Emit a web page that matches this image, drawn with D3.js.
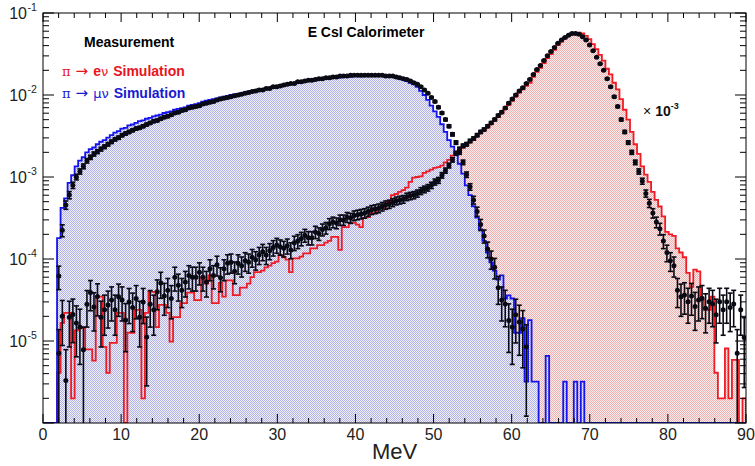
<!DOCTYPE html>
<html>
<head>
<meta charset="utf-8">
<script src="https://cdn.jsdelivr.net/npm/d3@7"></script>
<style>
  body { margin: 0; background: #fff; }
  svg { font-family: "Liberation Sans", Arial, Helvetica, sans-serif; }
</style>
</head>
<body>
<div id="chart"></div>
<script>
// E CsI calorimeter energy spectra, 200 bins of 0.45 MeV from 0 to 90 MeV
const width = 755;
const height = 466;
const margin = {left: 43, right: 9, top: 13, bottom: 43};
const binWidth = 0.45;
const xTicks = [0, 10, 20, 30, 40, 50, 60, 70, 80, 90];
const yDecades = [1e-6, 1e-5, 1e-4, 1e-3, 1e-2, 1e-1];
const yLabelExp = [-1, -2, -3, -4, -5];
const countsPerUnit = 1.6e5; // statistics used for the data error bars

// pi -> mu nu simulation (blue)
const muSim = [
  0, 0, 0, 0, 1.8e-4, 4.2e-4, 5.5e-4, 8.5e-4, 1.05e-3, 1.35e-3,
  1.58e-3, 1.74e-3, 2.0e-3, 2.19e-3, 2.29e-3, 2.51e-3, 2.69e-3, 2.82e-3, 3.02e-3, 3.24e-3,
  3.47e-3, 3.63e-3, 3.89e-3, 3.98e-3, 4.27e-3, 4.37e-3, 4.57e-3, 4.79e-3, 4.9e-3, 5.13e-3,
  5.25e-3, 5.5e-3, 5.62e-3, 5.75e-3, 6.03e-3, 6.17e-3, 6.31e-3, 6.61e-3, 6.76e-3, 6.92e-3,
  7.08e-3, 7.41e-3, 7.59e-3, 7.76e-3, 7.94e-3, 8.32e-3, 8.51e-3, 8.71e-3, 8.91e-3, 9.12e-3,
  9.33e-3, 9.55e-3, 9.77e-3, 1.0e-2, 1.02e-2, 1.03e-2, 1.05e-2, 1.07e-2, 1.10e-2, 1.12e-2,
  1.15e-2, 1.17e-2, 1.18e-2, 1.20e-2, 1.23e-2, 1.26e-2, 1.29e-2, 1.30e-2, 1.32e-2, 1.35e-2,
  1.38e-2, 1.39e-2, 1.41e-2, 1.45e-2, 1.46e-2, 1.48e-2, 1.51e-2, 1.52e-2, 1.55e-2, 1.56e-2,
  1.58e-2, 1.59e-2, 1.62e-2, 1.62e-2, 1.63e-2, 1.66e-2, 1.66e-2, 1.67e-2, 1.70e-2, 1.70e-2,
  1.69e-2, 1.71e-2, 1.70e-2, 1.70e-2, 1.73e-2, 1.72e-2, 1.70e-2, 1.69e-2, 1.68e-2, 1.66e-2,
  1.62e-2, 1.58e-2, 1.55e-2, 1.48e-2, 1.41e-2, 1.35e-2, 1.26e-2, 1.12e-2, 1.0e-2, 8.7e-3,
  7.4e-3, 6.3e-3, 5.4e-3, 4.4e-3, 3.55e-3, 2.82e-3, 2.34e-3, 1.91e-3, 1.45e-3, 1.10e-3,
  7.9e-4, 6.0e-4, 4.4e-4, 3.2e-4, 2.3e-4, 1.66e-4, 1.2e-4, 9.1e-5, 7.2e-5, 5.6e-5,
  6.3e-5, 3.3e-5, 3.6e-5, 3.3e-5, 1.26e-5, 1.26e-5, 1.9e-5, 3.2e-6, 1.8e-5, 3.2e-6,
  3.2e-6, 0, 0, 6.6e-6, 0, 0, 0, 0, 3.2e-6, 0,
  0, 3.2e-6, 0, 3.2e-6, 0, 0, 0, 0, 0, 0,
  0, 0, 0, 0, 0, 0, 0, 0, 0, 0,
  0, 0, 0, 0, 0, 0, 0, 0, 0, 0,
  0, 0, 0, 0, 0, 0, 0, 0, 0, 0,
  0, 0, 0, 0, 0, 0, 0, 0, 0, 0
];

// pi -> e nu simulation (red)
const eSim = [
  0, 0, 0, 0, 4.1e-6, 1.66e-5, 2.2e-5, 2.2e-5, 2.0e-6, 1.35e-5,
  1.45e-5, 1.45e-5, 7.9e-6, 7.9e-6, 5.75e-6, 3.47e-5, 3.47e-5, 8.5e-6, 4.1e-6, 9.5e-6,
  9.5e-6, 2.2e-5, 2.2e-5, 0, 1.26e-5, 1.26e-5, 2.4e-5, 2.4e-5, 2.0e-6, 2.2e-5,
  3.98e-5, 3.98e-5, 1.48e-5, 2.75e-5, 2.75e-5, 2.2e-5, 9.8e-6, 1.95e-5, 1.95e-5, 2.9e-5,
  2.9e-5, 3.9e-5, 3.9e-5, 3.16e-5, 3.16e-5, 6.0e-5, 5.0e-5, 6.3e-5, 2.9e-5, 2.9e-5,
  5.1e-5, 3.47e-5, 5.5e-5, 5.5e-5, 3.63e-5, 3.63e-5, 4.47e-5, 4.47e-5, 5.0e-5, 6.0e-5,
  6.9e-5, 6.9e-5, 7.2e-5, 7.9e-5, 8.3e-5, 8.9e-5, 9.3e-5, 1.12e-4, 1.05e-4, 9.8e-5,
  6.9e-5, 1.02e-4, 1.02e-4, 1.07e-4, 1.17e-4, 1.17e-4, 1.35e-4, 1.35e-4, 1.48e-4, 1.48e-4,
  1.58e-4, 1.66e-4, 1.86e-4, 1.86e-4, 1.29e-4, 2.45e-4, 2.45e-4, 2.75e-4, 2.75e-4, 2.63e-4,
  2.45e-4, 3.16e-4, 3.24e-4, 3.63e-4, 3.63e-4, 4.17e-4, 4.17e-4, 4.79e-4, 5.0e-4, 6.0e-4,
  6.2e-4, 6.6e-4, 6.9e-4, 7.4e-4, 8.7e-4, 9.8e-4, 1.0e-3, 1.02e-3, 1.12e-3, 1.17e-3,
  1.23e-3, 1.29e-3, 1.32e-3, 1.38e-3, 1.51e-3, 1.62e-3, 1.82e-3, 1.95e-3, 2.14e-3, 2.29e-3,
  2.45e-3, 2.69e-3, 2.88e-3, 3.16e-3, 3.47e-3, 3.72e-3, 4.07e-3, 4.47e-3, 4.9e-3, 5.37e-3,
  6.03e-3, 6.76e-3, 7.59e-3, 8.51e-3, 9.55e-3, 1.07e-2, 1.17e-2, 1.29e-2, 1.41e-2, 1.66e-2,
  1.91e-2, 2.14e-2, 2.45e-2, 2.82e-2, 3.16e-2, 3.55e-2, 4.07e-2, 4.47e-2, 4.9e-2, 5.25e-2,
  5.62e-2, 5.75e-2, 5.75e-2, 5.62e-2, 5.25e-2, 4.79e-2, 4.17e-2, 3.63e-2, 3.09e-2, 2.63e-2,
  2.09e-2, 1.78e-2, 1.41e-2, 1.17e-2, 8.91e-3, 6.61e-3, 5.01e-3, 3.55e-3, 2.51e-3, 1.91e-3,
  1.35e-3, 1.07e-3, 8.7e-4, 6.6e-4, 5.25e-4, 4.37e-4, 3.31e-4, 2.14e-4, 2.0e-4, 1.91e-4,
  1.35e-4, 1.2e-4, 1.05e-4, 6.76e-5, 4.57e-5, 7.41e-5, 7.08e-5, 3.16e-5, 2.4e-5, 2.4e-5,
  3.47e-5, 4.1e-6, 2.0e-6, 2.0e-6, 8.1e-6, 2.0e-6, 5.9e-6, 5.9e-6, 0, 2.0e-6
];

// measurement, pi -> mu nu selection (black points along blue)
const muData = [
  0, 0, 0, 0, 6.2e-5, 2.24e-4, 4.57e-4, 6.03e-4, 7.94e-4, 1.0e-3,
  1.17e-3, 1.35e-3, 1.58e-3, 1.74e-3, 1.91e-3, 2.04e-3, 2.19e-3, 2.34e-3, 2.51e-3, 2.69e-3,
  2.88e-3, 3.02e-3, 3.24e-3, 3.39e-3, 3.55e-3, 3.72e-3, 3.89e-3, 3.98e-3, 4.17e-3, 4.37e-3,
  4.57e-3, 4.79e-3, 4.9e-3, 5.13e-3, 5.37e-3, 5.5e-3, 5.75e-3, 6.03e-3, 6.17e-3, 6.46e-3,
  6.61e-3, 6.92e-3, 7.08e-3, 7.24e-3, 7.41e-3, 7.76e-3, 7.94e-3, 8.13e-3, 8.32e-3, 8.71e-3,
  8.91e-3, 9.12e-3, 9.33e-3, 9.55e-3, 9.77e-3, 1.0e-2, 1.02e-2, 1.05e-2, 1.07e-2, 1.10e-2,
  1.12e-2, 1.15e-2, 1.15e-2, 1.20e-2, 1.20e-2, 1.26e-2, 1.26e-2, 1.29e-2, 1.32e-2, 1.35e-2,
  1.38e-2, 1.38e-2, 1.45e-2, 1.45e-2, 1.48e-2, 1.51e-2, 1.51e-2, 1.55e-2, 1.58e-2, 1.58e-2,
  1.62e-2, 1.62e-2, 1.66e-2, 1.66e-2, 1.70e-2, 1.70e-2, 1.70e-2, 1.74e-2, 1.74e-2, 1.74e-2,
  1.74e-2, 1.74e-2, 1.74e-2, 1.74e-2, 1.74e-2, 1.74e-2, 1.74e-2, 1.70e-2, 1.70e-2, 1.70e-2,
  1.66e-2, 1.62e-2, 1.58e-2, 1.55e-2, 1.48e-2, 1.41e-2, 1.35e-2, 1.26e-2, 1.15e-2, 1.05e-2,
  9.33e-3, 8.32e-3, 7.08e-3, 6.03e-3, 5.01e-3, 4.17e-3, 3.31e-3, 2.63e-3, 2.0e-3, 1.51e-3,
  1.07e-3, 7.59e-4, 5.25e-4, 3.8e-4, 2.63e-4, 1.91e-4, 1.32e-4, 1.0e-4, 7.94e-5, 4.47e-5,
  3.16e-5, 2.82e-5, 1.78e-5, 1.48e-5, 2.09e-5, 1.7e-5, 1.41e-5, 8.5e-6, 0, 0,
  0, 0, 0, 0, 0, 0, 0, 0, 0, 0,
  0, 0, 0, 0, 0, 0, 0, 0, 0, 0,
  0, 0, 0, 0, 0, 0, 0, 0, 0, 0,
  0, 0, 0, 0, 0, 0, 0, 0, 0, 0,
  0, 0, 0, 0, 0, 0, 0, 0, 0, 0,
  0, 0, 0, 0, 0, 0, 0, 0, 0, 0
];

// measurement, pi -> e nu selection (black points along red)
const eData = [
  0, 0, 0, 0, 7.1e-6, 2.0e-5, 3.3e-6, 1.95e-5, 2.1e-5, 1.66e-5,
  1.48e-5, 7.8e-6, 2.8e-5, 3.9e-5, 2.6e-5, 3.5e-5, 1.95e-5, 2.4e-5, 2.75e-5, 3.16e-5,
  2.4e-5, 3.47e-5, 3.16e-5, 1.8e-5, 3.0e-5, 2.57e-5, 3.3e-5, 1.95e-5, 3.0e-5, 1.12e-5,
  2.8e-5, 2.4e-5, 3.98e-5, 5.1e-5, 3.55e-5, 4.17e-5, 3.3e-5, 6.0e-5, 4.8e-5, 4.17e-5,
  5.25e-5, 6.3e-5, 6.0e-5, 6.0e-5, 6.9e-5, 6.0e-5, 5.25e-5, 7.6e-5, 6.3e-5, 8.5e-5,
  5.9e-5, 7.6e-5, 8.9e-5, 9.1e-5, 7.1e-5, 8.9e-5, 8.3e-5, 9.5e-5, 9.1e-5, 1.05e-4,
  9.8e-5, 1.12e-4, 1.23e-4, 1.12e-4, 1.26e-4, 1.38e-4, 1.48e-4, 1.41e-4, 1.35e-4, 1.45e-4,
  1.29e-4, 1.58e-4, 1.66e-4, 1.78e-4, 1.95e-4, 1.82e-4, 1.82e-4, 2.14e-4, 2.04e-4, 2.29e-4,
  2.4e-4, 2.69e-4, 2.82e-4, 2.75e-4, 3.0e-4, 3.0e-4, 3.24e-4, 3.16e-4, 3.39e-4, 3.47e-4,
  3.55e-4, 3.63e-4, 3.8e-4, 3.98e-4, 4.07e-4, 4.17e-4, 4.37e-4, 4.57e-4, 4.68e-4, 4.9e-4,
  5.13e-4, 5.25e-4, 5.37e-4, 5.75e-4, 5.89e-4, 6.03e-4, 6.31e-4, 6.76e-4, 7.08e-4, 7.41e-4,
  7.94e-4, 8.71e-4, 9.12e-4, 1.05e-3, 1.2e-3, 1.38e-3, 1.62e-3, 1.95e-3, 2.19e-3, 2.4e-3,
  2.51e-3, 2.75e-3, 2.95e-3, 3.24e-3, 3.55e-3, 3.8e-3, 4.17e-3, 4.57e-3, 5.01e-3, 5.62e-3,
  6.17e-3, 6.92e-3, 7.94e-3, 8.91e-3, 1.0e-2, 1.12e-2, 1.23e-2, 1.38e-2, 1.55e-2, 1.78e-2,
  2.04e-2, 2.29e-2, 2.63e-2, 3.02e-2, 3.39e-2, 3.8e-2, 4.27e-2, 4.68e-2, 5.01e-2, 5.37e-2,
  5.62e-2, 5.62e-2, 5.5e-2, 5.13e-2, 4.68e-2, 4.07e-2, 3.47e-2, 2.88e-2, 2.4e-2, 2.0e-2,
  1.58e-2, 1.26e-2, 9.55e-3, 7.24e-3, 5.01e-3, 3.55e-3, 2.63e-3, 2.0e-3, 1.51e-3, 1.17e-3,
  8.91e-4, 6.31e-4, 4.79e-4, 3.63e-4, 2.82e-4, 2.34e-4, 1.66e-4, 1.2e-4, 9.5e-5, 8.3e-5,
  4.17e-5, 3.47e-5, 3.63e-5, 3.02e-5, 3.55e-5, 2.63e-5, 3.16e-5, 3.31e-5, 2.51e-5, 3.02e-5,
  2.82e-5, 2.09e-5, 3.02e-5, 2.4e-5, 3.02e-5, 2.57e-5, 2.82e-5, 7.1e-6, 2.4e-5, 1.1e-5
];

const svg = d3.select("#chart")
  .append("svg")
  .attr("width", width)
  .attr("height", height);

const x = d3.scaleLinear()
  .domain([0, 90])
  .range([margin.left, width - margin.right]);

const y = d3.scaleLog()
  .domain([1e-6, 1e-1])
  .range([height - margin.bottom, margin.top]);

const floorY = y(1e-6);

// dotted fills like the ROOT pattern styles
const defs = svg.append("defs");
function dotPattern(id, bg, dot) {
  const p = defs.append("pattern")
    .attr("id", id)
    .attr("width", 2).attr("height", 2)
    .attr("patternUnits", "userSpaceOnUse");
  p.append("rect").attr("width", 2).attr("height", 2).attr("fill", bg);
  p.append("rect").attr("width", 1).attr("height", 1).attr("fill", dot);
  p.append("rect").attr("x", 1).attr("y", 1).attr("width", 1).attr("height", 1).attr("fill", dot);
}
dotPattern("blueDots", "#f0f0fb", "#b2b2e4");
dotPattern("redDots", "#fcecec", "#ecb2b2");

defs.append("clipPath").attr("id", "plotClip")
  .append("rect")
  .attr("x", margin.left).attr("y", margin.top)
  .attr("width", x(90) - x(0)).attr("height", floorY - margin.top);

function stepPath(vals) {
  let p = `M${x(0)},${floorY}`;
  vals.forEach((v, i) => {
    const yy = v > 0 ? y(Math.max(v, 1e-6)) : floorY;
    p += `V${yy}H${x((i + 1) * binWidth)}`;
  });
  return p + `V${floorY}`;
}

const plot = svg.append("g").attr("clip-path", "url(#plotClip)");

plot.append("path").attr("d", stepPath(eSim) + "Z").attr("fill", "url(#redDots)");
plot.append("path").attr("d", stepPath(muSim) + "Z").attr("fill", "url(#blueDots)");
plot.append("path").attr("d", stepPath(eSim))
  .attr("fill", "none").attr("stroke", "#ee1c24").attr("stroke-width", 1.8);
plot.append("path").attr("d", stepPath(muSim))
  .attr("fill", "none").attr("stroke", "#1414ee").attr("stroke-width", 1.8);

// data points with statistical error bars
function drawData(vals) {
  const pts = vals.map((v, i) => ({i: i, v: v})).filter(d => d.v > 0);
  const g = plot.append("g").attr("stroke", "#0a0a14").attr("stroke-width", 1.6);
  pts.forEach(d => {
    const cx = x((d.i + 0.5) * binWidth);
    const s = Math.sqrt(d.v / countsPerUnit);
    const yHi = y(d.v + s);
    const yLo = d.v - s > 1e-6 ? y(d.v - s) : floorY;
    g.append("line").attr("x1", cx).attr("x2", cx).attr("y1", yHi).attr("y2", yLo);
    g.append("line").attr("x1", cx - 2.5).attr("x2", cx + 2.5).attr("y1", yHi).attr("y2", yHi);
    if (yLo < floorY) {
      g.append("line").attr("x1", cx - 2.5).attr("x2", cx + 2.5).attr("y1", yLo).attr("y2", yLo);
    }
  });
  plot.append("g").selectAll("circle")
    .data(pts)
    .enter()
    .append("circle")
      .attr("cx", d => x((d.i + 0.5) * binWidth))
      .attr("cy", d => y(d.v))
      .attr("r", 2.5)
      .attr("fill", "#0a0a14");
}
drawData(muData);
drawData(eData);

// frame and ticks (ROOT style, ticks inside on all four sides)
const axes = svg.append("g").attr("stroke", "#000").attr("stroke-width", 1);
axes.append("rect")
  .attr("x", x(0)).attr("y", margin.top)
  .attr("width", x(90) - x(0)).attr("height", floorY - margin.top)
  .attr("fill", "none");

const xMinor = d3.range(0, 91, 2).filter(v => v % 10 !== 0);
xTicks.forEach(v => {
  axes.append("line").attr("x1", x(v)).attr("x2", x(v)).attr("y1", floorY).attr("y2", floorY - 9);
  axes.append("line").attr("x1", x(v)).attr("x2", x(v)).attr("y1", margin.top).attr("y2", margin.top + 9);
});
xMinor.forEach(v => {
  axes.append("line").attr("x1", x(v)).attr("x2", x(v)).attr("y1", floorY).attr("y2", floorY - 5);
  axes.append("line").attr("x1", x(v)).attr("x2", x(v)).attr("y1", margin.top).attr("y2", margin.top + 5);
});

const yMinor = [];
yDecades.slice(0, -1).forEach(d => { for (let m = 2; m <= 9; m++) yMinor.push(m * d); });
const xr = x(90);
yDecades.forEach(v => {
  axes.append("line").attr("x1", x(0)).attr("x2", x(0) + 11).attr("y1", y(v)).attr("y2", y(v));
  axes.append("line").attr("x1", xr).attr("x2", xr - 11).attr("y1", y(v)).attr("y2", y(v));
});
yMinor.forEach(v => {
  axes.append("line").attr("x1", x(0)).attr("x2", x(0) + 6).attr("y1", y(v)).attr("y2", y(v));
  axes.append("line").attr("x1", xr).attr("x2", xr - 6).attr("y1", y(v)).attr("y2", y(v));
});

// tick labels
svg.append("g").selectAll("text")
  .data(xTicks)
  .enter()
  .append("text")
    .attr("x", d => x(d))
    .attr("y", floorY + 17)
    .attr("text-anchor", "middle")
    .attr("font-size", 16)
    .attr("fill", "#222")
    .text(d => d);

const yl = svg.append("g").attr("fill", "#222");
yLabelExp.forEach(e => {
  const yy = y(Math.pow(10, e));
  yl.append("text").attr("x", 27).attr("y", yy + 6)
    .attr("text-anchor", "end").attr("font-size", 16).text("10");
  yl.append("text").attr("x", 27.5).attr("y", yy - 2)
    .attr("font-size", 10.5).text(e);
});

svg.append("text")
  .attr("x", (x(0) + x(90)) / 2)
  .attr("y", 459)
  .attr("text-anchor", "middle")
  .attr("font-size", 22)
  .attr("fill", "#222")
  .text("MeV");

svg.append("text")
  .attr("x", 366).attr("y", 37)
  .attr("text-anchor", "middle")
  .attr("font-size", 14).attr("font-weight", "bold")
  .text("E CsI Calorimeter");

// legend
svg.append("text")
  .attr("x", 84).attr("y", 47)
  .attr("font-size", 14).attr("font-weight", "bold")
  .text("Measurement");

function legendLine(yPos, color, lepton) {
  const t = svg.append("text").attr("x", 62).attr("y", yPos).attr("fill", color).attr("font-size", 14);
  t.append("tspan").attr("font-family", "'DejaVu Serif', serif").attr("font-size", 13).text("\u03c0");
  t.append("tspan").attr("dx", 5).attr("font-family", "'DejaVu Sans', sans-serif").attr("font-size", 15).text("\u2192");
  const l = t.append("tspan").attr("dx", 5);
  if (lepton === "e") l.attr("font-weight", "bold").text("e");
  else l.attr("font-family", "'DejaVu Sans', sans-serif").attr("font-size", 13).text("\u03bc");
  t.append("tspan").attr("font-family", "'DejaVu Sans', sans-serif").attr("font-size", 13).text("\u03bd");
  t.append("tspan").attr("dx", 5).attr("font-weight", "bold").text("Simulation");
}
legendLine(76, "#e8141e", "e");
legendLine(98, "#1a1ad2", "mu");

// secondary scale note
const note = svg.append("text").attr("x", 643).attr("y", 116).attr("font-size", 14).attr("font-weight", "bold").attr("fill", "#111");
note.append("tspan").attr("font-weight", "normal").text("\u00d7");
note.append("tspan").attr("dx", 4).text("10");
note.append("tspan").attr("dy", -7).attr("font-size", 9).text("-3");
</script>
</body>
</html>
